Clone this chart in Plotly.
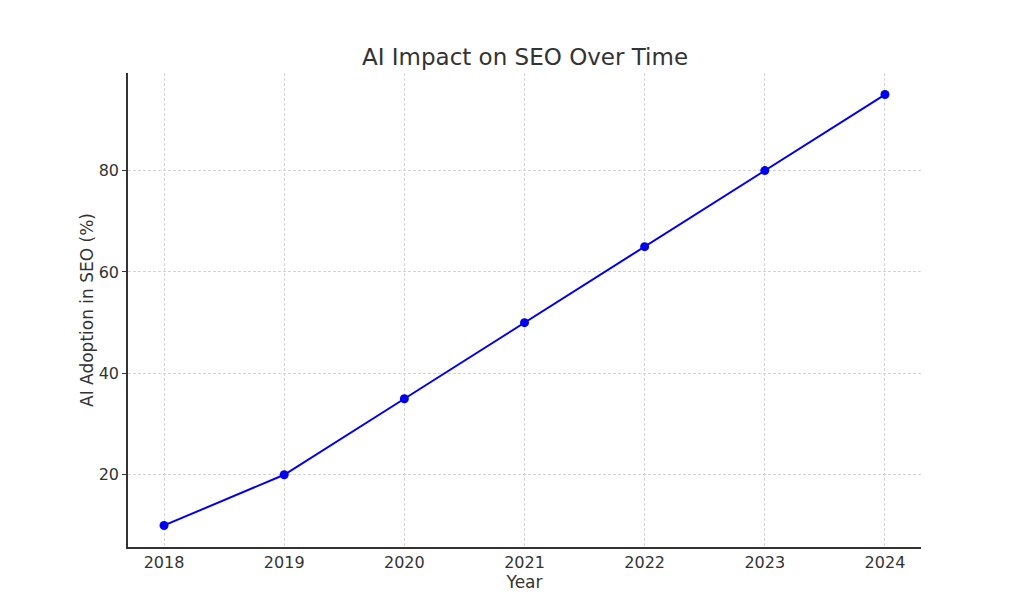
import plotly.graph_objects as go

years = [2018, 2019, 2020, 2021, 2022, 2023, 2024]
adoption = [10, 20, 35, 50, 65, 80, 95]
y_ticks = [20, 40, 60, 80]

fig = go.Figure()
fig.add_trace(go.Scatter(
    x=years, y=adoption, mode="lines+markers",
    line=dict(color="#0000ee", width=2),
    marker=dict(color="#0000ee", size=9),
    showlegend=False,
))

fig.update_layout(
    width=1024, height=614,
    paper_bgcolor="white", plot_bgcolor="white",
    margin=dict(l=120, r=111, t=65, b=75, autoexpand=False),
    font=dict(family="DejaVu Sans", color="#333333", size=14),
    title=dict(text="AI Impact on SEO Over Time", x=(525 - 8) / 1024, xanchor="center",
               y=1 - 49/614, yanchor="middle", font=dict(size=23, color="#333333")),
)
fig.update_xaxes(
    range=[2017.7, 2024.3], tickvals=years, ticktext=[str(y) for y in years],
    showgrid=True, gridcolor="#d4d4d4", griddash="3px,2px", gridwidth=1,
    showline=True, linecolor="#333333", linewidth=1.5, ticks="", zeroline=False,
    automargin=False,
    title=dict(text="Year", standoff=4, font=dict(size=17)), tickfont=dict(size=16, color="#333333"),
)
fig.update_yaxes(
    range=[5.75, 99.25], tickvals=y_ticks,
    showgrid=True, gridcolor="#d4d4d4", griddash="3px,2px", gridwidth=1,
    showline=True, linecolor="#333333", linewidth=1.5, ticks="outside", ticklen=4,
    tickcolor="#333333", zeroline=False, automargin=False,
    title=dict(text="AI Adoption in SEO (%)", standoff=1, font=dict(size=17)),
    tickfont=dict(size=16, color="#333333"),
)

fig.write_html("out.html")
